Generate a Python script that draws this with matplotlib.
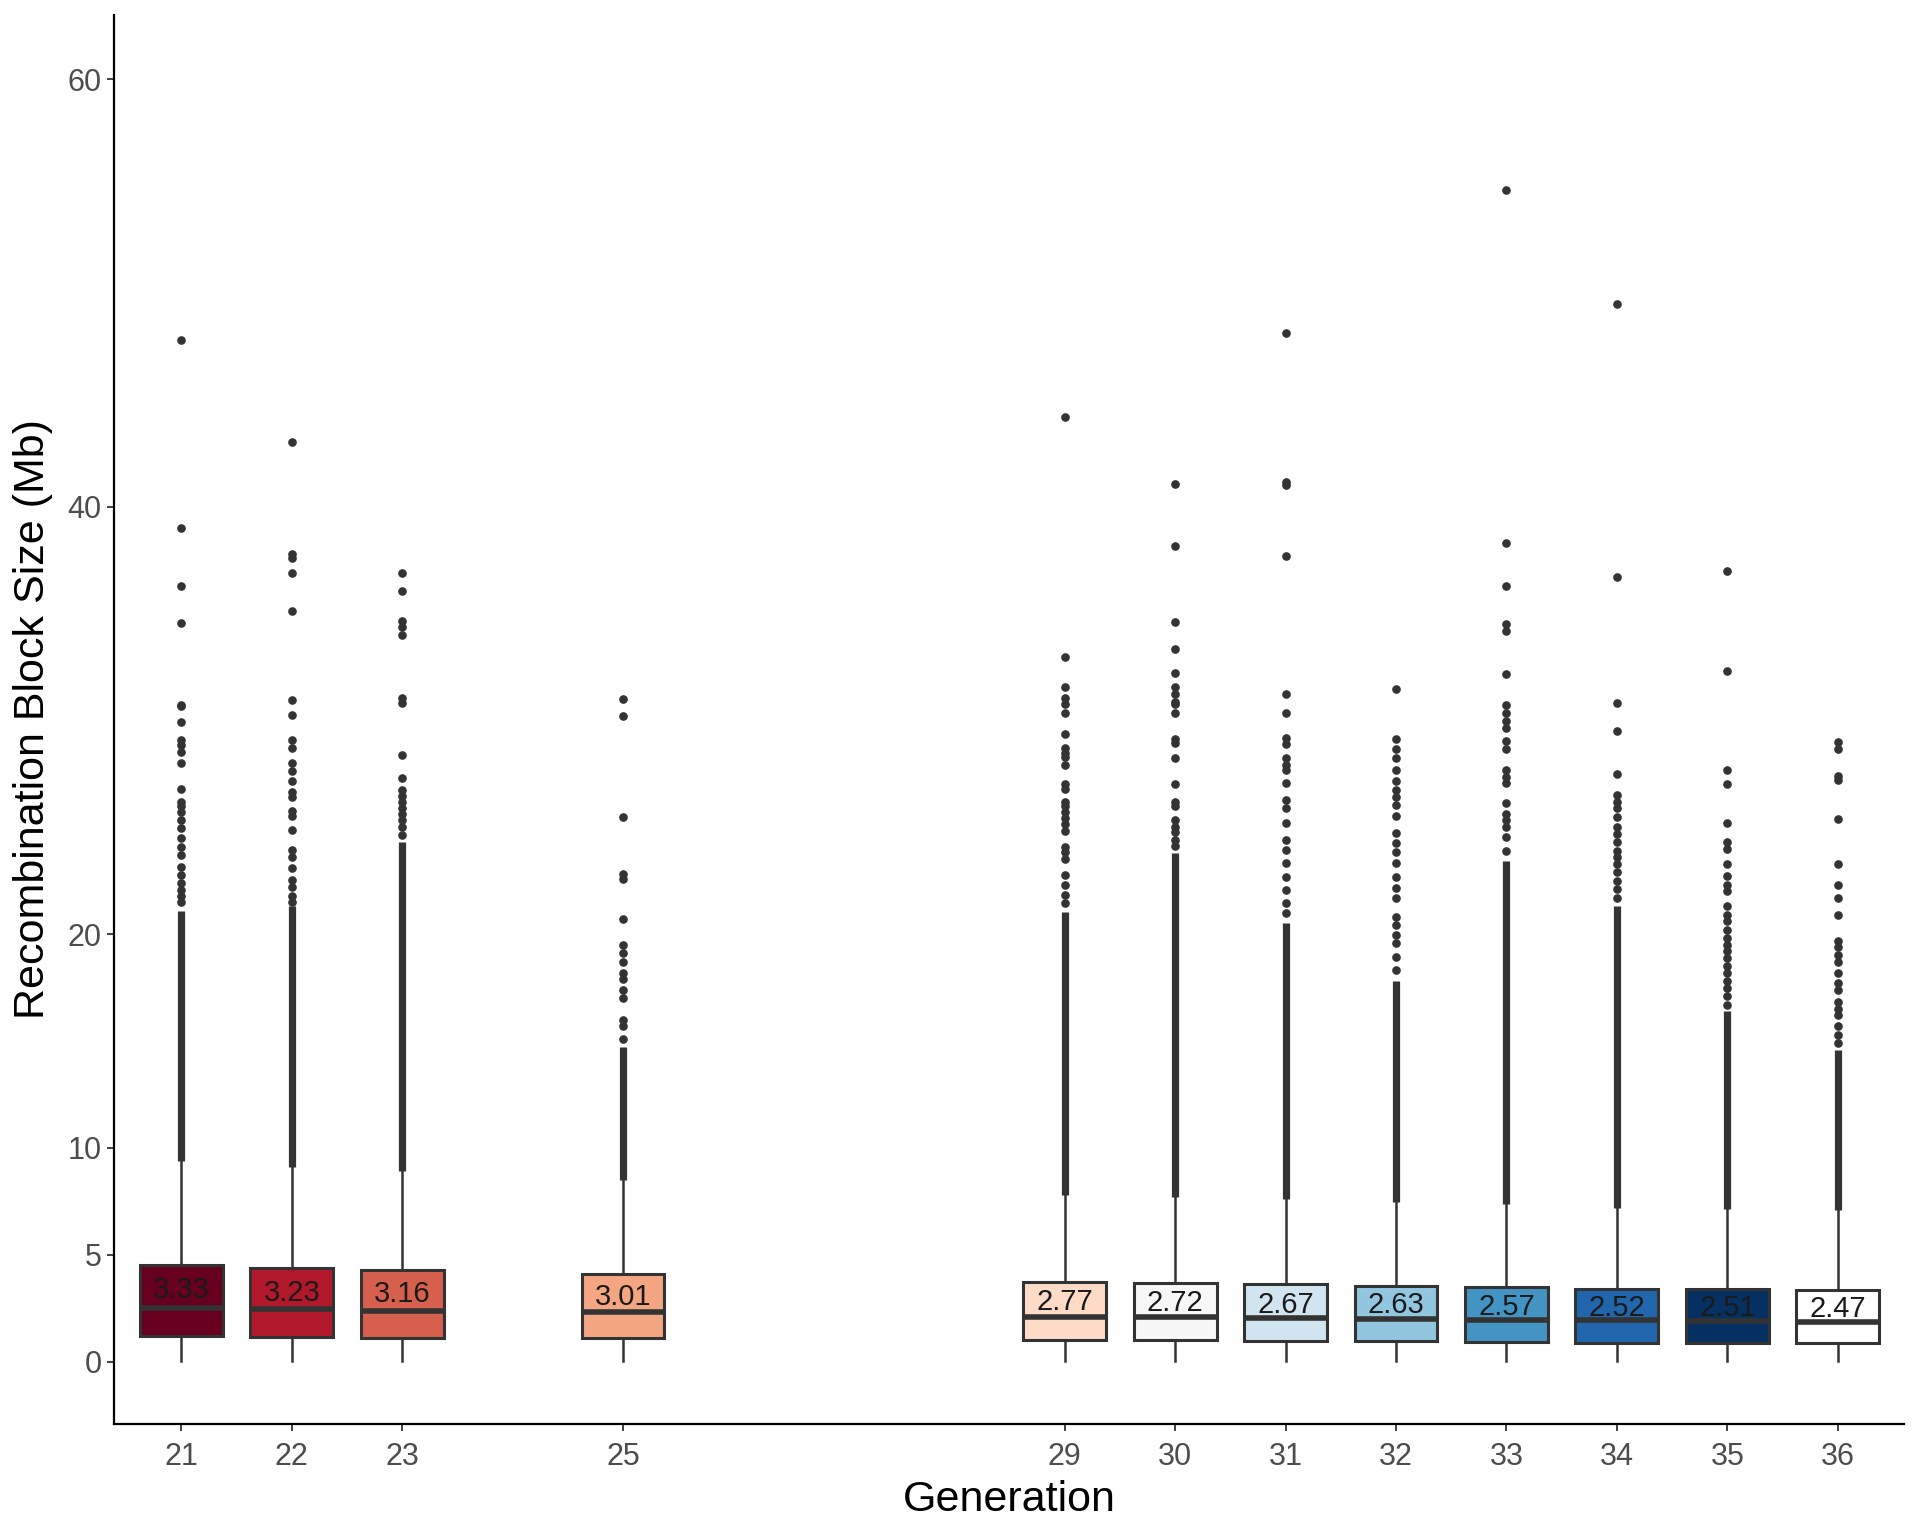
import matplotlib
matplotlib.use("Agg")
import matplotlib.pyplot as plt

plt.rcParams['font.family'] = ['Liberation Sans', 'DejaVu Sans']

# values
generations = [21, 22, 23, 25, 29, 30, 31, 32, 33, 34, 35, 36]
means = [3.33, 3.23, 3.16, 3.01, 2.77, 2.72, 2.67, 2.63, 2.57, 2.52, 2.51, 2.47]
q1 = [1.20, 1.14, 1.12, 1.12, 1.01, 1.00, 0.96, 0.95, 0.90, 0.88, 0.88, 0.88]
medians = [2.52, 2.45, 2.38, 2.32, 2.10, 2.07, 2.03, 1.98, 1.95, 1.93, 1.90, 1.87]
q3 = [4.52, 4.37, 4.29, 4.09, 3.74, 3.69, 3.62, 3.55, 3.48, 3.41, 3.38, 3.37]
whisker_low = [0.01] * 12
whisker_high = [9.4, 9.1, 8.9, 8.5, 7.8, 7.7, 7.6, 7.45, 7.35, 7.2, 7.13, 7.1]
# upper end of the continuous band of outliers just above each whisker
dense_top = [21.1, 21.3, 24.3, 14.7, 21.05, 23.8, 20.5, 17.8, 23.4, 21.3, 16.4, 14.6]

# sparse outliers above the dense band
outliers = {
    21: [47.8, 39.0, 36.3, 34.55, 30.7, 30.65, 29.94, 29.09, 28.85, 28.54, 28.0,
         26.78, 26.2, 25.97, 25.73, 25.34, 24.96, 24.49, 24.09, 23.7, 23.16, 22.77,
         22.38, 22.07, 21.8, 21.5],
    22: [43.0, 37.8, 37.6, 36.9, 35.1, 30.93, 30.26, 29.09, 28.73, 28.0, 27.65,
         27.14, 26.67, 26.43, 25.78, 25.53, 24.88, 23.94, 23.63, 23.08, 22.54,
         22.22, 21.76, 21.5],
    23: [36.9, 36.05, 34.67, 34.38, 33.98, 31.06, 30.83, 28.37, 27.28, 26.76,
         26.48, 26.19, 25.9, 25.62, 25.33, 24.99, 24.64],
    25: [31.0, 30.2, 25.5, 22.8, 22.6, 20.7, 19.5, 19.1, 18.7, 18.2, 17.9, 17.4,
         17.0, 16.0, 15.7, 15.1],
    29: [44.19, 32.96, 31.55, 31.04, 30.76, 30.34, 29.37, 28.7, 28.46, 28.28,
         27.92, 27.03, 26.78, 26.2, 25.97, 25.73, 25.42, 25.16, 24.84, 24.09,
         23.86, 23.5, 22.77, 22.3, 21.83, 21.44],
    30: [41.07, 38.17, 34.62, 33.33, 32.21, 31.58, 31.24, 30.88, 30.75, 30.34,
         29.12, 28.96, 28.23, 27.02, 26.2, 26.0, 25.34, 25.03, 24.8, 24.4, 24.1],
    31: [48.1, 41.15, 41.0, 37.7, 31.23, 30.34, 29.17, 28.89, 28.26, 27.92, 27.68,
         27.06, 26.28, 25.89, 25.19, 24.38, 23.94, 23.32, 22.69, 22.07, 21.44, 20.98],
    32: [31.45, 29.12, 28.67, 28.26, 27.68, 27.14, 26.75, 26.43, 26.04, 25.53,
         24.72, 24.28, 23.86, 23.32, 22.69, 22.14, 21.68, 20.82, 20.43, 19.96,
         19.57, 18.95, 18.32],
    33: [54.8, 38.3, 36.3, 34.5, 34.2, 32.17, 30.72, 30.34, 29.99, 29.66, 29.05,
         28.68, 27.68, 27.37, 27.06, 26.15, 25.62, 25.34, 25.03, 24.53, 23.91],
    34: [49.5, 36.7, 30.8, 29.5, 27.5, 26.5, 26.2, 25.9, 25.5, 25.0, 24.7, 24.3,
         23.9, 23.6, 23.3, 22.9, 22.5, 22.1, 21.7],
    35: [37.0, 32.3, 27.7, 27.0, 25.2, 24.3, 24.0, 23.3, 22.7, 22.3, 22.0, 21.3,
         20.9, 20.6, 20.2, 19.8, 19.5, 19.2, 18.9, 18.5, 18.2, 17.8, 17.5, 17.1, 16.7],
    36: [29.0, 28.65, 27.4, 27.2, 25.4, 23.3, 22.3, 21.7, 20.9, 19.7, 19.4, 19.0,
         18.7, 18.2, 17.7, 17.4, 16.8, 16.5, 16.2, 15.7, 15.3, 14.9],
}

colors = ['#67001F', '#B2182B', '#D6604D', '#F4A582', '#FDDBC7', '#F7F7F7',
          '#D1E5F0', '#92C5DE', '#4393C3', '#2166AC', '#053061', '#FFFFFF']

dark = '#333333'

fig = plt.figure(figsize=(19.2, 15.36), dpi=100)
ax = fig.add_axes([114 / 1920, 1 - 1424 / 1536, (1904 - 114) / 1920, (1424 - 15) / 1536])

stats = []
for i, g in enumerate(generations):
    stats.append({
        'med': medians[i], 'q1': q1[i], 'q3': q3[i],
        'whislo': whisker_low[i], 'whishi': whisker_high[i],
        'fliers': outliers[g], 'label': str(g),
    })

# dense outlier band drawn as a thick vertical stroke
ax.vlines(generations, whisker_high, dense_top, colors=dark, lw=5.2, zorder=1)

bp = ax.bxp(stats, positions=generations, widths=0.75, patch_artist=True,
            showcaps=False, manage_ticks=False,
            boxprops=dict(edgecolor=dark, linewidth=2.2),
            medianprops=dict(color=dark, linewidth=4.0),
            whiskerprops=dict(color=dark, linewidth=1.8),
            flierprops=dict(marker='o', markersize=5.2, markerfacecolor=dark,
                            markeredgecolor=dark, linestyle='none'))
for patch, c in zip(bp['boxes'], colors):
    patch.set_facecolor(c)
    patch.set_zorder(2)
for m in bp['medians']:
    m.set_zorder(3)

for g, m in zip(generations, means):
    ax.text(g, m, f'{m:.2f}', ha='center', va='center', fontsize=21,
            color='#1A1A1A', zorder=4)

ax.set_xlim(20.39, 36.6)
ax.set_ylim(-2.92, 63.0)
ax.set_xticks(generations)
ax.set_xticklabels([str(g) for g in generations])
ax.set_yticks([0, 5, 10, 20, 40, 60])

for s in ['top', 'right']:
    ax.spines[s].set_visible(False)
for s in ['left', 'bottom']:
    ax.spines[s].set_linewidth(1.6)
    ax.spines[s].set_color('black')
ax.tick_params(axis='both', length=5, width=1.3, color=dark,
               labelsize=22, labelcolor='#4D4D4D', pad=4)
ax.tick_params(axis='x', pad=8)

ax.set_xlabel('Generation', fontsize=31, color='black', labelpad=6)
ax.set_ylabel('Recombination Block Size (Mb)', fontsize=31, color='black', labelpad=10)

fig.savefig('out.png', dpi=100)
